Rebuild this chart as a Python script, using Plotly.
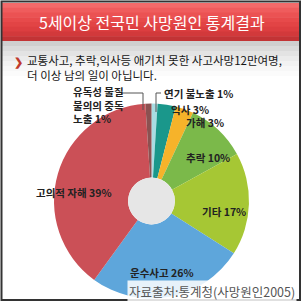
import plotly.graph_objects as go

# ---- data ----
labels = ["연기 불노출", "익사", "가해", "추락", "기타", "운수사고", "고의적 자해", "유독성 물질 불의의 중독 노출"]
values = [1, 3, 3, 10, 17, 26, 39, 1]
colors = ["#a9dce2", "#1a978b", "#f6b32a", "#7bb94a", "#a6c734", "#5ea6db", "#cb5057", "#8c5151"]
title_text = "5세이상 전국민 사망원인 통계결과"
sub_line1 = "교통사고, 추락,익사등 애기치 못한 사고사망12만여명,"
sub_line2 = "더 이상 남의 일이 아닙니다."
source_text = "자료출처:통계청(사망원인2005)"

W = H = 304
FONT = "Noto Sans CJK KR"

def px(x):
    return x / W

def py(y):
    return 1 - y / H

fig = go.Figure()
cx, cy, r = 151.5, 201, 97.5
hr = 23.4
fig.add_trace(go.Pie(
    labels=labels, values=values, sort=False, direction="clockwise", rotation=0,
    hole=hr / r, marker=dict(colors=colors, line=dict(width=0)),
    textinfo="none", hoverinfo="label+percent", showlegend=False,
    domain=dict(x=[px(cx - r), px(cx + r)], y=[py(cy + r), py(cy - r)]),
))
# light grey centre disc
fig.add_trace(go.Pie(
    labels=["center"], values=[1], sort=False, marker=dict(colors=["#e6e6e6"], line=dict(width=0)),
    textinfo="none", hoverinfo="skip", showlegend=False,
    domain=dict(x=[px(cx - hr), px(cx + hr)], y=[py(cy + hr), py(cy - hr)]),
))

shapes = []
reds = ["#f36a6a", "#ef5c5d", "#eb5253", "#e74a4b", "#e24445", "#dc3e40", "#d2393b", "#c23335"]
y0 = 3
band = 38 / len(reds)
for i, c in enumerate(reds):
    shapes.append(dict(type="rect", xref="paper", yref="paper", layer="below",
                       x0=px(2), x1=px(300), y0=py(y0 + band * (i + 1) + 0.5), y1=py(y0 + band * i),
                       fillcolor=c, line=dict(width=0)))
greys = ["#cfcfcf", "#dadada", "#e3e3e3", "#ebebeb", "#f2f2f2", "#f7f7f7", "#fbfbfb", "#ffffff"]
g0 = 41
gb = 40 / len(greys)
for i, c in enumerate(greys):
    shapes.append(dict(type="rect", xref="paper", yref="paper", layer="below",
                       x0=px(2), x1=px(300), y0=py(g0 + gb * (i + 1) + 0.5), y1=py(g0 + gb * i),
                       fillcolor=c, line=dict(width=0)))
lc = "#555555"
shapes.append(dict(type="path", xref="paper", yref="paper",
                   path=f"M {px(161)},{py(93)} L {px(156)},{py(93)} L {px(156)},{py(112)}",
                   line=dict(color=lc, width=1)))
shapes.append(dict(type="path", xref="paper", yref="paper",
                   path=f"M {px(121)},{py(93)} L {px(143)},{py(93)} L {px(143)},{py(110)}",
                   line=dict(color=lc, width=1)))
shapes.append(dict(type="rect", xref="paper", yref="paper",
                   x0=px(1.5), x1=px(300), y0=py(300), y1=py(1.5),
                   line=dict(color="#333333", width=2)))

ann = []
def A(text, x, y, size=10.5, color="#222222", xanchor="center", bold=True, align="center", bg=None):
    t = f"<b>{text}</b>" if bold else text
    d = dict(text=t, x=px(x), y=py(y), xref="paper", yref="paper", showarrow=False,
             xanchor=xanchor, yanchor="middle", align=align,
             font=dict(family=FONT, size=size, color=color))
    if bg:
        d["bgcolor"] = bg
    ann.append(d)

A(title_text, 152, 22, size=16, color="#ffffff", bold=False)
A("❯", 12, 61, size=11, color="#c0392b", xanchor="left")
A(sub_line1 + "<br>" + sub_line2, 25, 67, size=11.5, color="#151515", xanchor="left", bold=False, align="left")

A(f"{labels[0]} {values[0]}%", 162, 93, xanchor="left")
A(f"{labels[1]} {values[1]}%", 169, 109, xanchor="left")
A(f"{labels[2]} {values[2]}%", 184, 123, xanchor="left")
A(f"{labels[3]} {values[3]}%", 184, 157, xanchor="left")
A(f"{labels[4]} {values[4]}%", 200, 211, xanchor="left")
A(f"{labels[5]} {values[5]}%", 128, 272, xanchor="left")
A(f"{labels[6]} {values[6]}%", 34, 193, xanchor="left")
ann.append(dict(text="<b>유독성 물질<br>불의의 중독<br>노출 1%</b>", x=px(71), y=py(105), xref="paper", yref="paper",
                showarrow=False, xanchor="left", yanchor="middle", align="left",
                font=dict(family=FONT, size=10.5, color="#222222")))
A(source_text, 297, 291, size=12.5, color="#555555", xanchor="right", bold=False, bg="rgba(255,255,255,0.85)")

fig.update_layout(width=W, height=H, margin=dict(l=0, r=0, t=0, b=0),
                  paper_bgcolor="#ffffff", plot_bgcolor="#ffffff",
                  shapes=shapes, annotations=ann)
fig.write_html("out.html")
